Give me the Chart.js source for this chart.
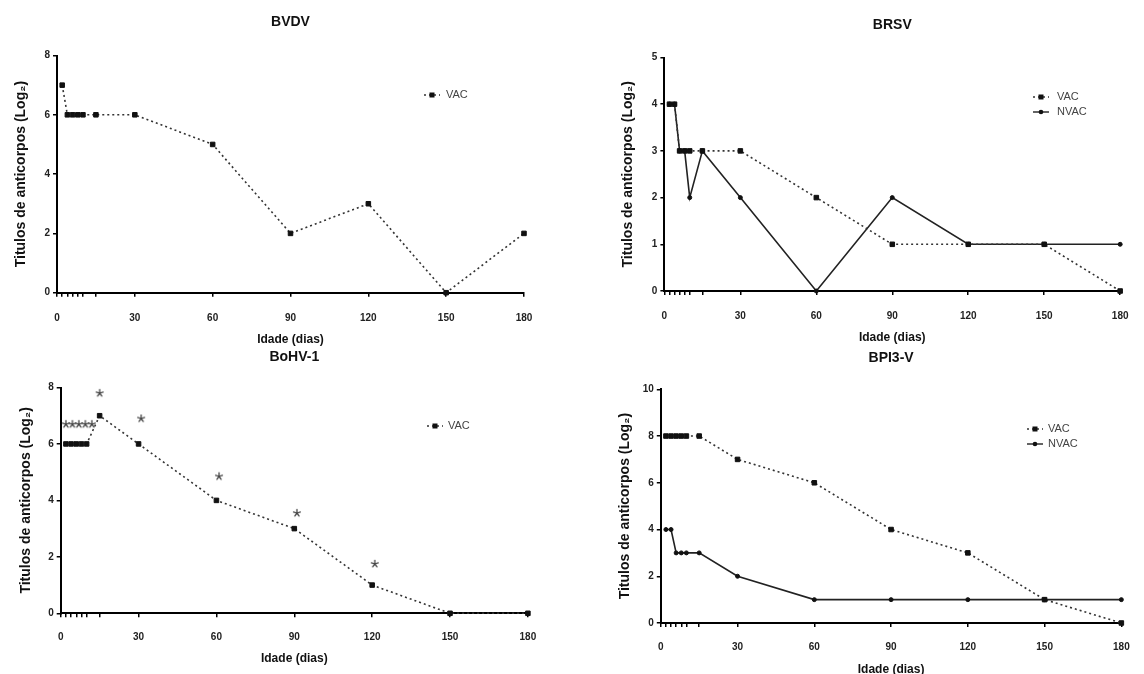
<!DOCTYPE html>
<html>
<head>
<meta charset="utf-8">
<script src="https://cdn.jsdelivr.net/npm/chart.js@4.4.1/dist/chart.umd.min.js"></script>
<style>
  html, body { margin: 0; padding: 0; background: #fff; overflow: hidden; }
  #wrap { position: relative; width: 1144px; height: 674px; }
  #wrap canvas { position: absolute; left: 0; top: 0; }
</style>
</head>
<body>
<div id="wrap">
  <canvas id="bvdv" width="1144" height="700"></canvas>
  <canvas id="brsv" width="1144" height="700"></canvas>
  <canvas id="bohv" width="1144" height="700"></canvas>
  <canvas id="bpi3" width="1144" height="700"></canvas>
</div>
<script>
// Data (days of age vs antibody titres, log2)
const dias = [2, 4, 6, 8, 10, 15, 30, 60, 90, 120, 150, 180];
const bvdvVac = [7, 6, 6, 6, 6, 6, 6, 5, 2, 3, 0, 2];
const brsvVac = [4, 4, 3, 3, 3, 3, 3, 2, 1, 1, 1, 0];
const brsvNvac = [4, 4, 3, 3, 2, 3, 2, 0, 2, 1, 1, 1];
const bohvVac = [6, 6, 6, 6, 6, 7, 6, 4, 3, 1, 0, 0];
const bohvStarX = [2, 4.5, 7, 9.5, 12, 15, 31, 61, 91, 121];
const bohvStarY = [6.7, 6.7, 6.7, 6.7, 6.7, 7.8, 6.9, 4.85, 3.55, 1.75];
const bpi3Vac = [8, 8, 8, 8, 8, 8, 7, 6, 4, 3, 1, 0];
const bpi3Nvac = [4, 4, 3, 3, 3, 3, 2, 1, 1, 1, 1, 1];
const xTickVals = [0, 2, 4, 6, 8, 10, 15, 30, 60, 90, 120, 150, 180];
const xLabelVals = [0, 30, 60, 90, 120, 150, 180];

const FONT = "'Liberation Sans', Arial, 'DejaVu Sans', sans-serif";
const CANVAS_W = 1144, CANVAS_H = 700;

const pts = (xs, ys) => xs.map((x, i) => ({ x, y: ys[i] }));

// five-armed asterisk used for the significance marks
const asterisk = document.createElement('canvas');
asterisk.width = 10; asterisk.height = 10;
(() => {
  const c = asterisk.getContext('2d');
  c.strokeStyle = '#444';
  c.lineWidth = 1.3;
  c.lineCap = 'round';
  for (let k = 0; k < 5; k++) {
    const a = -Math.PI / 2 + k * 2 * Math.PI / 5;
    c.beginPath();
    c.moveTo(5, 5);
    c.lineTo(5 + 3.6 * Math.cos(a), 5 + 3.6 * Math.sin(a));
    c.stroke();
  }
})();

function vacSet(values) {
  return {
    label: 'VAC', data: pts(dias, values),
    borderColor: '#333', borderWidth: 1.6, borderDash: [2, 3],
    pointStyle: 'rect', pointRadius: 3.2, pointBackgroundColor: '#111',
    pointBorderColor: '#111', pointBorderWidth: 1, clip: false
  };
}
function nvacSet(values) {
  return {
    label: 'NVAC', data: pts(dias, values),
    borderColor: '#222', borderWidth: 1.6,
    pointStyle: 'circle', pointRadius: 2, pointBackgroundColor: '#111',
    pointBorderColor: '#111', pointBorderWidth: 1, clip: false
  };
}

// small legend drawn inside the plot, like the original figure
const panelLegend = {
  id: 'panelLegend',
  afterDatasetsDraw(chart, args, opts) {
    const ctx = chart.ctx;
    let row = 0;
    ctx.save();
    chart.data.datasets.forEach(ds => {
      if (!ds.label) return;
      const y = opts.y + row * opts.gap;
      ctx.strokeStyle = ds.borderColor;
      ctx.lineWidth = 1.4;
      ctx.setLineDash(ds.borderDash || []);
      ctx.beginPath();
      ctx.moveTo(opts.x - 8, y);
      ctx.lineTo(opts.x + 8, y);
      ctx.stroke();
      ctx.setLineDash([]);
      ctx.fillStyle = '#111';
      if (ds.pointStyle === 'rect') ctx.fillRect(opts.x - 2.5, y - 2.5, 5, 5);
      else { ctx.beginPath(); ctx.arc(opts.x, y, 2.3, 0, Math.PI * 2); ctx.fill(); }
      ctx.fillStyle = '#444';
      ctx.font = '11px ' + FONT;
      ctx.textBaseline = 'middle';
      ctx.textAlign = 'left';
      ctx.fillText(ds.label, opts.textX, y);
      row++;
    });
    ctx.restore();
  }
};

// g holds the target plot box and text positions on the page
function makePanel(id, title, g, datasets, yMax, yStep, legend) {
  const xH = g.xTitleY - g.b + 7.2;
  const yLeft = g.yTitleX - 8.4;
  return new Chart(document.getElementById(id), {
    type: 'line',
    data: { datasets },
    plugins: [panelLegend],
    options: {
      responsive: false,
      animation: false,
      layout: {
        padding: {
          left: yLeft,
          right: CANVAS_W - g.r,
          top: g.titleY - 8.4,
          bottom: CANVAS_H - (g.b + xH)
        }
      },
      plugins: {
        legend: { display: false },
        tooltip: { enabled: false },
        title: {
          display: true, text: title, fullSize: false, color: '#111',
          font: { family: FONT, size: 14, weight: 'bold' },
          padding: { top: 0, bottom: g.t - g.titleY - 8.4 }
        },
        panelLegend: legend
      },
      scales: {
        x: {
          type: 'linear', min: 0, max: 180,
          afterBuildTicks: (s) => { s.ticks = xTickVals.map(v => ({ value: v })); },
          afterFit: (s) => { s.height = xH; },
          border: { color: '#000', width: 2 },
          grid: { drawOnChartArea: false, color: '#000', lineWidth: 1.5, tickLength: 4 },
          ticks: {
            autoSkip: false, maxRotation: 0, color: '#222',
            padding: g.xLabelY - g.b - 10,
            font: { family: FONT, size: 10, weight: 'bold' },
            callback: (v) => xLabelVals.includes(v) ? String(v) : ''
          },
          title: {
            display: true, text: 'Idade (dias)', color: '#111',
            font: { family: FONT, size: 12, weight: 'bold' },
            padding: 0
          }
        },
        y: {
          min: 0, max: yMax,
          afterFit: (s) => { s.width = g.l - yLeft; },
          border: { color: '#000', width: 2 },
          grid: { drawOnChartArea: false, color: '#000', lineWidth: 1.5, tickLength: 4 },
          ticks: {
            stepSize: yStep, color: '#222', padding: 3,
            font: { family: FONT, size: 10, weight: 'bold' }
          },
          title: {
            display: true, text: 'Titulos de anticorpos (Log\u2082)', color: '#111',
            font: { family: FONT, size: 14, weight: 'bold' },
            padding: 0
          }
        }
      }
    }
  });
}

makePanel('bvdv', 'BVDV',
  { l: 57, r: 524, t: 55.5, b: 292.7, titleY: 22, yTitleX: 21.4, xLabelY: 318, xTitleY: 340 },
  [vacSet(bvdvVac)], 8, 2,
  { x: 432, y: 95, textX: 446, gap: 15 });

makePanel('brsv', 'BRSV',
  { l: 664.4, r: 1133.7, t: 57.5, b: 291, titleY: 25, yTitleX: 628.6, xLabelY: 316.5, xTitleY: 337.5 },
  [vacSet(brsvVac), nvacSet(brsvNvac)], 5, 1,
  { x: 1041, y: 97, textX: 1057, gap: 15 });

makePanel('bohv', 'BoHV-1',
  { l: 60.7, r: 527.9, t: 387.5, b: 613.3, titleY: 357, yTitleX: 26.4, xLabelY: 637.3, xTitleY: 658.3 },
  [vacSet(bohvVac), {
    label: '', data: pts(bohvStarX, bohvStarY), showLine: false,
    pointStyle: asterisk, pointRadius: 4, borderColor: '#444', clip: false
  }], 8, 2,
  { x: 435, y: 426, textX: 448, gap: 15 });

makePanel('bpi3', 'BPI3-V',
  { l: 660.8, r: 1126.4, t: 389.3, b: 623, titleY: 357.7, yTitleX: 625.6, xLabelY: 647.3, xTitleY: 669.3 },
  [vacSet(bpi3Vac), nvacSet(bpi3Nvac)], 10, 2,
  { x: 1035, y: 429, textX: 1048, gap: 15 });
</script>
</body>
</html>
